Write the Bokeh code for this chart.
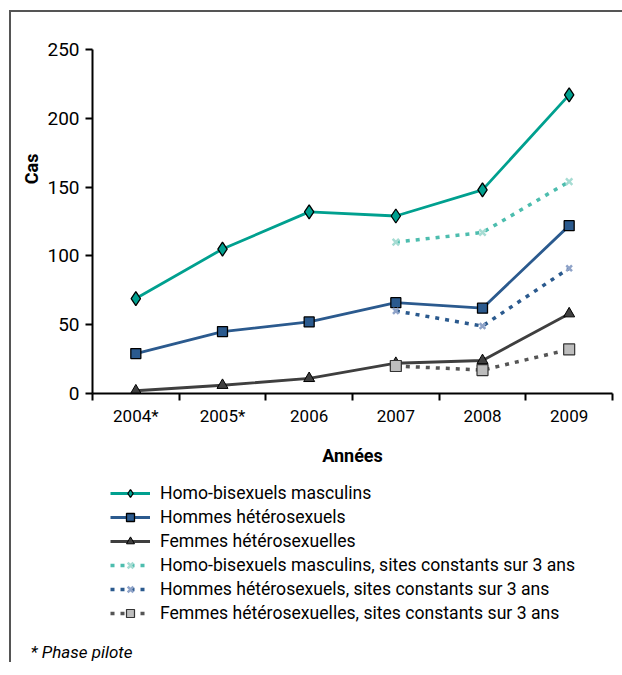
import math
from bokeh.plotting import figure
from bokeh.layouts import column
from bokeh.models import FixedTicker, Legend, LegendItem, Title, Range1d
from bokeh.embed import file_html
from bokeh.resources import INLINE

years = ["2004*", "2005*", "2006", "2007", "2008", "2009"]
homo = [69, 105, 132, 129, 148, 217]
hommes = [29, 45, 52, 66, 62, 122]
femmes = [2, 6, 11, 22, 24, 58]
const_years = ["2007", "2008", "2009"]
homo_c = [110, 117, 154]
hommes_c = [60, 49, 91]
femmes_c = [20, 17, 32]
y_ticks = [0, 50, 100, 150, 200, 250]

names = [
    "Homo-bisexuels masculins",
    "Hommes hétérosexuels",
    "Femmes hétérosexuelles",
    "Homo-bisexuels masculins, sites constants sur 3 ans",
    "Hommes hétérosexuels, sites constants sur 3 ans",
    "Femmes hétérosexuelles, sites constants sur 3 ans",
]
footnote = "* Phase pilote"

FONT = "Roboto"
TEAL = "#00A08F"
BLUE = "#2B5A8E"
DARK = "#3F3F3F"

styles_list = [
    (dict(line_color=TEAL, line_width=2.8),
     dict(marker="diamond", size=14, fill_color=TEAL, line_color="black", line_width=1.3)),
    (dict(line_color=BLUE, line_width=2.8),
     dict(marker="square", size=10, fill_color=BLUE, line_color="black", line_width=1.3)),
    (dict(line_color=DARK, line_width=2.8),
     dict(marker="triangle", size=11, fill_color=DARK, line_color="black", line_width=1)),
    (dict(line_color="#4DBDAE", line_width=3.5, line_dash="4 6"),
     dict(marker="x", size=9, line_color="#A6DCD3", line_width=2.5)),
    (dict(line_color=BLUE, line_width=3.5, line_dash="4 6"),
     dict(marker="x", size=8, line_color="#8FA3C8", line_width=2.5)),
    (dict(line_color="#555555", line_width=3.5, line_dash="4 6"),
     dict(marker="square", size=11, fill_color="#BDBDBD", line_color="#333333", line_width=1.2)),
]

def xpos(cats):
    return [years.index(c) + 0.5 for c in cats]

W = 611
H1 = 461
p = figure(width=W, height=H1, output_backend="svg", toolbar_location=None,
           x_range=Range1d(0, len(years)), y_range=Range1d(0, 250),
           min_border_left=81, min_border_top=37, min_border_right=10,
           min_border_bottom=80)
p.outline_line_color = None
p.grid.visible = False
p.background_fill_color = "white"
p.border_fill_color = "white"

xa = p.xaxis[0]
xa.ticker = FixedTicker(ticks=[i + 0.5 for i in range(len(years))],
                        minor_ticks=list(range(len(years) + 1)))
xa.major_label_overrides = {i + 0.5: y for i, y in enumerate(years)}
xa.major_tick_out = 0
xa.major_tick_in = 0
xa.minor_tick_out = 7
xa.minor_tick_in = 0
xa.minor_tick_line_width = 2
xa.axis_line_width = 2
xa.axis_line_color = "black"
xa.minor_tick_line_color = "black"
xa.major_label_text_font = FONT
xa.major_label_text_font_size = "17px"
xa.major_label_text_color = "black"
xa.major_label_standoff = 5
xa.axis_label = "Années"
xa.axis_label_text_font = FONT
xa.axis_label_text_font_size = "18px"
xa.axis_label_text_font_style = "bold"
xa.axis_label_text_color = "black"
xa.axis_label_standoff = 16

ya = p.yaxis[0]
ya.ticker = FixedTicker(ticks=y_ticks, minor_ticks=[])
ya.major_tick_out = 7
ya.major_tick_in = 0
ya.major_tick_line_width = 2
ya.major_tick_line_color = "black"
ya.axis_line_width = 2
ya.axis_line_color = "black"
ya.major_label_text_font = FONT
ya.major_label_text_font_size = "19px"
ya.major_label_text_color = "black"
ya.major_label_standoff = 6

cas = Title(text="Cas", align="right", offset=104, standoff=6,
            text_font=FONT, text_font_size="18px", text_font_style="bold", text_color="black")
p.add_layout(cas, "left")

xs = xpos(years)
xc = xpos(const_years)
series = [(xs, homo), (xs, hommes), (xs, femmes), (xc, homo_c), (xc, hommes_c), (xc, femmes_c)]
for (sx, sy), (lk, mk) in zip(series, styles_list):
    p.line(sx, sy, **lk)
    p.scatter(sx, sy, **mk)

# legend / footnote panel (its frame lines up with the chart's frame)
H2 = 189
q = figure(width=W, height=H2, output_backend="svg", toolbar_location=None,
           x_range=Range1d(0, 1), y_range=Range1d(0, 1),
           x_axis_location=None, y_axis_location=None,
           min_border=0, min_border_left=81, min_border_right=10)
q.outline_line_color = None
q.grid.visible = False
q.background_fill_color = "white"
q.border_fill_color = "white"
nan = float("nan")
items = []
for n, (lk, mk) in zip(names, styles_list):
    r1 = q.line([nan], [nan], **lk)
    r2 = q.scatter([nan], [nan], **mk)
    items.append(LegendItem(label=n, renderers=[r1, r2]))
leg = Legend(items=items, location=(18, 15), orientation="vertical",
             border_line_color=None, background_fill_alpha=0,
             label_text_font=FONT, label_text_font_size="17.6px", label_text_color="black",
             glyph_width=40, glyph_height=20, label_height=20, spacing=4,
             padding=0, margin=0, label_standoff=10)
q.add_layout(leg, "center")
foot = Title(text=footnote, align="left", offset=-62, standoff=2,
             text_font=FONT, text_font_size="17px", text_font_style="italic", text_color="black")
q.add_layout(foot, "below")

layout = column(p, q, spacing=0,
                styles={"border-left": "2px solid #555", "border-top": "2px solid #555",
                        "margin-left": "9px", "margin-top": "10px"})

open("out.html", "w").write(file_html(layout, INLINE))
